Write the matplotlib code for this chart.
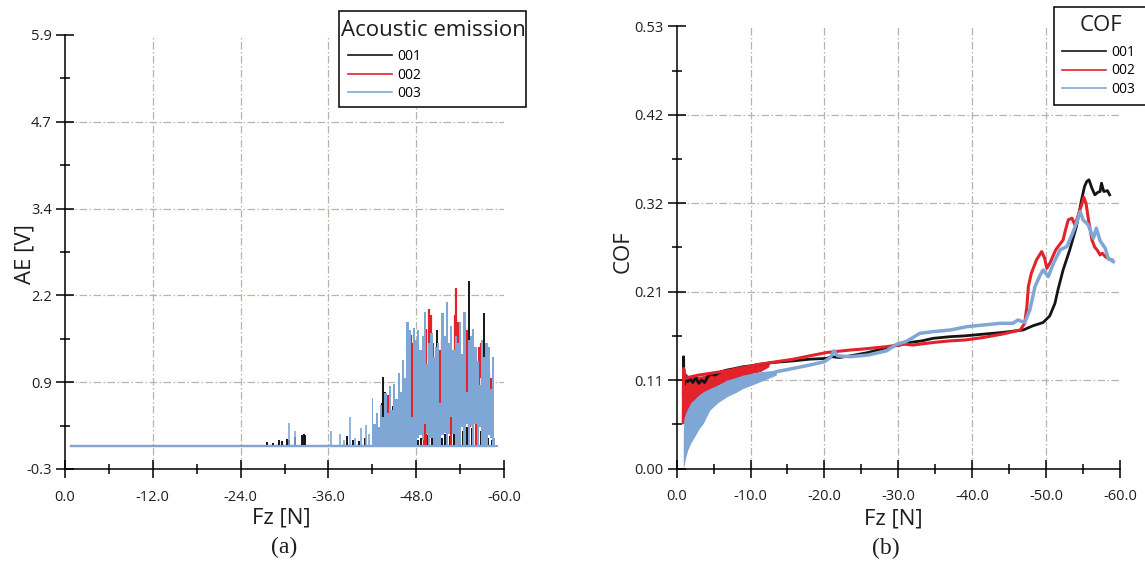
import matplotlib
matplotlib.use('Agg')
import matplotlib.pyplot as plt
from matplotlib.lines import Line2D
from matplotlib.patches import Rectangle
from matplotlib.ticker import FixedLocator, FormatStrFormatter
import numpy as np

plt.rcParams['font.family'] = ['Open Sans', 'DejaVu Sans']
plt.rcParams['axes.unicode_minus'] = False

## cores das séries ##
c_001 = '#141414'
c_002 = '#e3232c'
c_003 = '#7fa7d6'
c_grid = '#bcb2aa'
series_labels = ['001', '002', '003']

## ---------------- (a) Acoustic emission ---------------- ##
ae1_base_fz = [-0.8, -58.6]
ae1_base_v = [0.03, 0.03]
ae2_base_fz = [-0.8, -58.6]
ae2_base_v = [0.03, 0.03]
ae3_base_fz = [-0.8, -59.0]
ae3_base_v = [0.03, 0.03]

# 001: picos isolados
ae1_spk_fz = [-27.6, -28.4, -29.3, -29.6, -30.3, -30.6, -31.5, -32.4, -32.6, -32.8,
              -38.5, -39.4, -40.2, -41.0, -43.3, -43.5, -43.7, -44.8, -46.0, -47.0,
              -48.3, -48.6, -49.0, -49.5, -50.2, -50.8, -51.5, -52.0, -52.6, -53.2,
              -53.8, -54.4, -55.0, -55.2, -55.6, -56.2, -56.8, -57.3, -57.8, -58.3]
ae1_spk_v = [0.09, 0.07, 0.12, 0.10, 0.13, 0.11, 0.16, 0.18, 0.20, 0.19,
             0.17, 0.12, 0.10, 0.14, 0.65, 1.02, 0.80, 0.60, 0.25, 0.30,
             0.12, 0.15, 0.10, 0.18, 0.14, 1.68, 0.15, 0.20, 0.17, 0.22,
             1.75, 0.25, 0.30, 2.38, 0.28, 0.20, 0.25, 1.93, 0.15, 0.12]

# 002: faixas (min / max)
ae2_spk_fz = [-43.8, -44.2, -44.5, -45.5, -46.3, -47.3, -47.5, -47.8, -48.0, -49.1,
              -49.4, -49.7, -50.0, -50.3, -51.3, -51.5, -52.7, -53.3, -53.5, -53.7,
              -54.9, -55.3, -56.2, -56.6, -56.8, -57.0, -57.3, -57.9, -58.2]
ae2_spk_lo = [0.03, 0.03, 0.10, 0.05, 0.10, 0.40, 0.35, 0.30, 0.50, 0.03,
              0.05, 0.10, 0.30, 0.50, 0.60, 0.70, 0.03, 0.60, 0.90, 0.80,
              0.80, 0.30, 0.03, 0.90, 1.00, 0.70, 0.60, 0.50, 0.85]
ae2_spk_hi = [0.50, 0.76, 0.55, 0.60, 0.90, 1.62, 1.50, 1.40, 1.35, 0.36,
              1.70, 1.98, 1.90, 1.50, 1.40, 1.55, 0.50, 1.90, 2.28, 1.80,
              1.68, 1.40, 0.40, 1.45, 1.50, 1.35, 1.30, 1.10, 1.00]

# 003: picos isolados + região densa (min / max por intervalo)
ae3_spk_fz = [-30.6, -31.4, -36.4, -37.6, -38.2, -39.0, -39.6, -40.4, -41.2, -41.6]
ae3_spk_v = [0.36, 0.24, 0.24, 0.20, 0.12, 0.45, 0.15, 0.28, 0.33, 0.20]

ae3_fz = [-42.0, -42.3, -42.6, -42.9, -43.2, -43.5, -43.8, -44.1, -44.4, -44.7,
          -45.0, -45.3, -45.6, -45.9, -46.2, -46.5, -46.8, -47.1, -47.4, -47.7,
          -48.0, -48.3, -48.6, -48.9, -49.2, -49.5, -49.8, -50.1, -50.4, -50.7,
          -51.0, -51.3, -51.6, -51.9, -52.2, -52.5, -52.8, -53.1, -53.4, -53.7,
          -54.0, -54.3, -54.6, -54.9, -55.2, -55.5, -55.8, -56.1, -56.4, -56.7,
          -57.0, -57.3, -57.6, -57.9, -58.2, -58.5, -58.8]
ae3_lo = [0.03, 0.03, 0.03, 0.03, 0.03, 0.03, 0.03, 0.03, 0.03, 0.03,
          0.03, 0.03, 0.03, 0.03, 0.03, 0.03, 0.03, 0.03, 0.03, 0.03,
          0.03, 0.15, 0.18, 0.12, 0.35, 0.20, 0.03, 0.15, 0.03, 0.03,
          0.03, 0.03, 0.18, 0.22, 0.03, 0.20, 0.45, 0.20, 0.03, 0.03,
          0.03, 0.30, 0.03, 0.35, 0.03, 0.32, 0.03, 0.35, 0.03, 0.30,
          0.03, 0.03, 0.03, 0.18, 0.15, 0.03, 0.03]
ae3_hi = [0.72, 0.35, 0.50, 0.30, 0.62, 0.45, 0.79, 0.50, 0.88, 0.55,
          0.92, 0.70, 1.07, 0.80, 1.26, 1.00, 1.80, 1.68, 0.45, 1.72,
          1.55, 1.68, 1.40, 1.60, 1.95, 1.20, 1.50, 1.65, 1.30, 1.45,
          1.50, 0.65, 1.93, 1.60, 2.09, 1.50, 1.75, 1.40, 1.60, 1.50,
          1.80, 1.35, 1.95, 0.80, 1.55, 1.60, 1.70, 1.45, 1.25, 0.90,
          1.55, 1.30, 1.50, 1.45, 0.85, 1.30, 0.15]

## ---------------- (b) COF ---------------- ##
cof1_fz = [-0.9, -0.95, -1.0, -1.2, -1.5, -1.8, -2.2, -2.6, -3.0, -3.4,
           -3.8, -4.2, -4.6, -5.2, -6.0, -6.8, -8.0, -9.0, -10.0, -11.3,
           -13.0, -15.8, -18.0, -20.3, -21.0, -22.0, -23.5, -25.9, -28.9, -30.2,
           -31.5, -33.2, -34.7, -37.0, -39.0, -41.5, -44.0, -46.9, -48.2, -49.6,
           -50.5, -51.2, -51.6, -52.3, -53.2, -54.1, -54.8, -55.2, -55.5, -55.8,
           -56.2, -56.6, -57.0, -57.3, -57.5, -57.8, -58.3, -58.6]
cof1 = [0.088, 0.134, 0.100, 0.112, 0.104, 0.108, 0.103, 0.109, 0.102, 0.106,
        0.103, 0.110, 0.113, 0.112, 0.116, 0.118, 0.120, 0.122, 0.123, 0.125,
        0.127, 0.129, 0.131, 0.132, 0.134, 0.133, 0.135, 0.139, 0.146, 0.148,
        0.151, 0.153, 0.156, 0.158, 0.159, 0.161, 0.163, 0.166, 0.171, 0.175,
        0.183, 0.198, 0.214, 0.238, 0.262, 0.290, 0.322, 0.338, 0.344, 0.346,
        0.336, 0.328, 0.331, 0.332, 0.342, 0.332, 0.333, 0.328]

cof2_fz = [-0.9, -0.95, -1.2, -2.0, -3.0, -4.5, -6.8, -9.0, -11.3, -13.5,
           -15.8, -18.0, -20.3, -23.5, -25.0, -28.4, -30.8, -32.0, -34.7, -37.0,
           -39.0, -41.5, -44.0, -46.5, -47.1, -47.4, -47.6, -48.0, -48.7, -49.4,
           -49.8, -50.1, -50.5, -50.9, -51.3, -51.8, -52.3, -52.6, -53.0, -53.5,
           -53.9, -54.4, -54.8, -55.1, -55.4, -55.7, -56.2, -56.6, -56.9, -57.3,
           -57.6, -58.0, -58.5, -58.9]
cof2 = [0.055, 0.120, 0.108, 0.110, 0.112, 0.114, 0.117, 0.121, 0.125, 0.128,
        0.131, 0.135, 0.139, 0.142, 0.143, 0.146, 0.149, 0.148, 0.151, 0.153,
        0.154, 0.157, 0.161, 0.166, 0.174, 0.194, 0.218, 0.234, 0.250, 0.260,
        0.252, 0.240, 0.246, 0.254, 0.262, 0.268, 0.274, 0.285, 0.298, 0.300,
        0.292, 0.305, 0.316, 0.325, 0.318, 0.300, 0.274, 0.265, 0.262, 0.256,
        0.258, 0.254, 0.251, 0.250]
cof2_band_fz = [-0.9, -1.0, -1.5, -2.3, -3.4, -4.5, -5.6, -6.8, -8.0, -9.0, -10.2, -11.3, -12.5]
cof2_band_hi = [0.120, 0.115, 0.112, 0.110, 0.111, 0.114, 0.116, 0.118, 0.120, 0.122, 0.123, 0.125, 0.126]
cof2_band_lo = [0.052, 0.060, 0.070, 0.080, 0.088, 0.094, 0.100, 0.104, 0.108, 0.110, 0.114, 0.116, 0.122]

cof3_fz = [-13.5, -15.8, -18.0, -20.0, -20.8, -21.3, -21.8, -23.5, -25.9, -28.4,
           -29.8, -31.0, -31.8, -32.9, -34.7, -37.0, -39.3, -41.5, -43.8, -45.5,
           -46.2, -47.1, -47.8, -48.5, -49.2, -49.6, -50.3, -51.0, -51.9, -52.8,
           -53.5, -54.1, -54.6, -55.0, -55.7, -56.4, -56.8, -57.3, -58.0, -58.4, -59.1]
cof3 = [0.116, 0.120, 0.124, 0.128, 0.133, 0.141, 0.135, 0.134, 0.136, 0.141,
        0.149, 0.152, 0.156, 0.162, 0.164, 0.166, 0.170, 0.172, 0.174, 0.174,
        0.178, 0.175, 0.190, 0.218, 0.232, 0.238, 0.230, 0.246, 0.262, 0.266,
        0.280, 0.294, 0.308, 0.298, 0.292, 0.276, 0.288, 0.273, 0.264, 0.252, 0.248]
cof3_band_fz = [-0.9, -1.0, -1.2, -1.5, -2.0, -2.3, -3.0, -3.6, -4.5, -5.6,
                -6.8, -8.0, -9.0, -10.2, -11.3, -13.5]
cof3_band_hi = [0.040, 0.060, 0.066, 0.072, 0.080, 0.082, 0.088, 0.092, 0.096, 0.100,
                0.106, 0.109, 0.112, 0.114, 0.116, 0.118]
cof3_band_lo = [0.000, 0.003, 0.012, 0.022, 0.032, 0.036, 0.047, 0.054, 0.070, 0.079,
                0.086, 0.091, 0.096, 0.100, 0.104, 0.112]

## ticks dos eixos ##
ae_yticks = np.linspace(-0.3, 5.9, 6)
ae_xticks = [0, -12, -24, -36, -48, -60]
cof_yticks = np.linspace(0.0, 0.53, 6)
cof_xticks = [0, -10, -20, -30, -40, -50, -60]

W, H = 1145, 566
fig = plt.figure(figsize=(W / 100, H / 100), dpi=100)
ax1 = fig.add_axes([65 / W, (H - 469) / H, 439 / W, 434 / H])
ax2 = fig.add_axes([676.6 / W, (H - 468.5) / H, 443.4 / W, 442.2 / H])


def style_axis(ax, xticks, yticks, xminor, yminor, yfmt):
    ax.set_xlim(xticks[0], xticks[-1])
    ax.set_ylim(yticks[0], yticks[-1])
    ax.xaxis.set_major_locator(FixedLocator(xticks))
    ax.xaxis.set_minor_locator(FixedLocator(xminor))
    ax.yaxis.set_major_locator(FixedLocator(yticks))
    ax.yaxis.set_minor_locator(FixedLocator(yminor))
    ax.xaxis.set_major_formatter(FormatStrFormatter('%.1f'))
    ax.yaxis.set_major_formatter(FormatStrFormatter(yfmt))
    for s in ['top', 'right']:
        ax.spines[s].set_visible(False)
    for s in ['left', 'bottom']:
        ax.spines[s].set_linewidth(1.1)
    ax.tick_params(which='major', direction='inout', length=13, width=1.1,
                   labelsize=10.5, labelcolor='#1e1e1e')
    ax.tick_params(which='minor', direction='inout', length=7, width=1.1)
    ax.tick_params(axis='x', which='major', pad=8.5)
    ax.tick_params(axis='y', which='major', pad=3)
    ## grade tracejada só nos ticks internos ##
    for v in xticks[1:-1]:
        ax.axvline(v, color=c_grid, lw=0.9, ls=(0, (6, 2, 1.2, 2)), zorder=0.5)
    for v in yticks[1:-1]:
        ax.axhline(v, color=c_grid, lw=0.9, ls=(0, (6, 2, 1.2, 2)), zorder=0.5)


ae_yminor = (ae_yticks[:-1] + ae_yticks[1:]) / 2
cof_yminor = (cof_yticks[:-1] + cof_yticks[1:]) / 2
style_axis(ax1, ae_xticks, ae_yticks, [-6, -18, -30, -42, -54], ae_yminor, '%.1f')
style_axis(ax2, cof_xticks, cof_yticks, [-5, -15, -25, -35, -45, -55], cof_yminor, '%.2f')

## plot (a) ##
ax1.plot(ae1_base_fz, ae1_base_v, color=c_001, lw=1.5, zorder=2)
ax1.vlines(ae1_spk_fz, ae1_base_v[0], ae1_spk_v, color=c_001, lw=1.4, zorder=2)
ax1.plot(ae2_base_fz, ae2_base_v, color=c_002, lw=1.5, zorder=3)
ax1.vlines(ae2_spk_fz, ae2_spk_lo, ae2_spk_hi, color=c_002, lw=1.6, zorder=3)
ax1.plot(ae3_base_fz, ae3_base_v, color=c_003, lw=1.5, zorder=4)
ax1.vlines(ae3_spk_fz, ae3_base_v[0], ae3_spk_v, color=c_003, lw=1.2, zorder=4)
ax1.fill_between(ae3_fz, ae3_lo, ae3_hi, step='mid', color=c_003, lw=0, zorder=4)

## plot (b) ##
ax2.fill_between(cof2_band_fz, cof2_band_lo, cof2_band_hi, color=c_002, lw=0, zorder=2)
ax2.plot(cof1_fz, cof1, color=c_001, lw=2.0, zorder=3)
ax2.plot(cof2_fz, cof2, color=c_002, lw=2.2, zorder=4)
ax2.fill_between(cof3_band_fz, cof3_band_lo, cof3_band_hi, color=c_003, lw=0, zorder=5)
ax2.plot(cof3_fz, cof3, color=c_003, lw=2.5, zorder=5)

## rótulos dos eixos ##
label_kw = dict(fontsize=16, color='#1e1e1e')
ax1.set_xlabel('Fz [N]', **label_kw)
ax1.set_ylabel('AE [V]', **label_kw)
ax2.set_xlabel('Fz [N]', **label_kw)
ax2.set_ylabel('COF', **label_kw)
for ax, xl, yl in [(ax1, (0.492, -0.113), (-0.091, 0.495)),
                   (ax2, (0.489, -0.114), (-0.121, 0.49))]:
    ax.xaxis.label.set_va('center')
    ax.xaxis.set_label_coords(*xl)
    ax.yaxis.label.set_rotation_mode('default')
    ax.yaxis.label.set_va('center')
    ax.yaxis.label.set_ha('center')
    ax.yaxis.set_label_coords(*yl)

## legendas: caixa, título e entradas (coordenadas da figura) ##
colors = [c_001, c_002, c_003]


def legend_box(x0, y0, x1, y1, title, tx, ty, ex, ey):
    fig.add_artist(Rectangle((x0 / W, 1 - y1 / H), (x1 - x0) / W, (y1 - y0) / H,
                             transform=fig.transFigure, fc='white', ec='black',
                             lw=1.1, zorder=4))
    fig.text(tx / W, 1 - ty / H, title, fontsize=16, ha='center', va='baseline',
             color='#1e1e1e', zorder=6)
    handles = [Line2D([], [], color=c, lw=1.2) for c in colors]
    fig.legend(handles, series_labels, loc='center left',
               bbox_to_anchor=(ex / W, 1 - ey / H), bbox_transform=fig.transFigure,
               frameon=False, borderpad=0, borderaxespad=0, handlelength=3.2,
               handletextpad=0.35, labelspacing=0.25, fontsize=10)


legend_box(339, 11, 526, 107, 'Acoustic emission', 433, 36.5, 348, 75)
legend_box(1053.5, 6.7, 1200, 105, 'COF', 1101, 31, 1062, 71)

## legendas (a) e (b) ##
fig.text(284 / W, 1 - 547 / H, '(a)', family='Liberation Serif', fontsize=17,
         ha='center', va='center', color='#1e1e1e')
fig.text(886 / W, 1 - 548 / H, '(b)', family='Liberation Serif', fontsize=17,
         ha='center', va='center', color='#1e1e1e')

fig.savefig('out.png', dpi=100)
